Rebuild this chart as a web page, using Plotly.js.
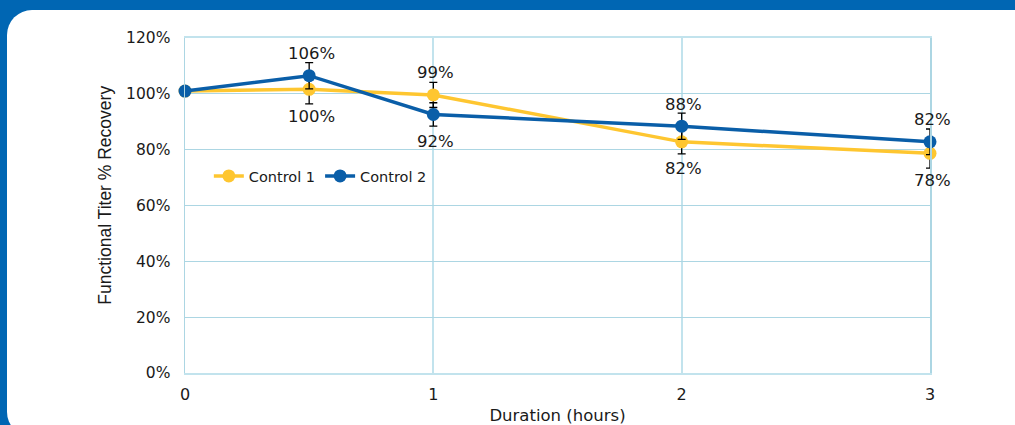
<!DOCTYPE html>
<html>
<head>
<meta charset="utf-8">
<script src="https://cdn.plot.ly/plotly-3.0.1.min.js"></script>
<style>
  html, body { margin: 0; padding: 0; width: 1015px; height: 425px; overflow: hidden; background: #0066b3; }
  #panel { position: absolute; left: 7px; top: 10px; width: 1100px; height: 427px; background: #ffffff; border-radius: 25px; }
  #chart { position: absolute; left: 0; top: 0; width: 1015px; height: 425px; }
</style>
</head>
<body>
<div id="panel"></div>
<div id="chart"></div>
<script>
// ---- data ----
const durations = [0, 0.5, 1, 2, 3];
const control1 = [101.0, 101.6, 99.6, 82.8, 78.7];
const control2 = [101.0, 106.5, 92.6, 88.4, 82.8];
const control1Err = [0, 5.2, 4.5, 4.3, 5.3];
const control2Err = [0, 4.7, 4.2, 4.7, 4.6];
const control1Labels = ['', '100%', '99%', '82%', '78%'];
const control2Labels = ['', '106%', '92%', '88%', '82%'];
const xTicks = [0, 1, 2, 3];
const seriesNames = ['Control 1', 'Control 2'];
const xTitle = 'Duration (hours)';
const yTitle = 'Functional Titer % Recovery';

const YELLOW = '#fec630';
const BLUE = '#0a5ea8';
const GRID_X = '#c2e3ed';
const GRID_Y = '#acd6e3';
const TXT = '#1a1a1a';
const FONT = 'DejaVu Sans, Verdana, sans-serif';

function trace(name, y, err, color) {
  return {
    type: 'scatter', mode: 'lines+markers', name: name,
    x: durations, y: y,
    line: { color: color, width: 3.5 },
    marker: { color: color, size: 13 },
    error_y: { type: 'data', array: err, visible: true, color: '#000000', thickness: 1.3, width: 4 },
    cliponaxis: false
  };
}

const data = [
  trace(seriesNames[0], control1, control1Err, YELLOW),
  trace(seriesNames[1], control2, control2Err, BLUE)
];

const annotations = [];
function addLabels(vals, other, labels) {
  vals.forEach((v, i) => {
    if (!labels[i]) return;
    const above = v >= other[i];
    annotations.push({
      x: durations[i], y: v, xref: 'x', yref: 'y', text: labels[i],
      showarrow: false, xanchor: 'center', yanchor: 'middle',
      xshift: 2, yshift: above ? 22 : -27,
      font: { family: FONT, size: 16.5, color: TXT }
    });
  });
}
addLabels(control1, control2, control1Labels);
addLabels(control2, control1, control2Labels);

// y-axis title (placed slightly above centre, as in the reference)
annotations.push({
  text: yTitle, xref: 'paper', yref: 'paper', x: -0.1075, y: 0.532,
  xanchor: 'center', yanchor: 'middle', textangle: -90, showarrow: false,
  font: { family: 'Liberation Sans, Arial, sans-serif', size: 17.5, color: TXT }
});

const layout = {
  width: 1015, height: 425,
  margin: { l: 185, r: 85, t: 38, b: 52 },
  paper_bgcolor: 'rgba(0,0,0,0)',
  plot_bgcolor: 'rgba(0,0,0,0)',
  font: { family: FONT, size: 15, color: TXT },
  showlegend: true,
  legend: {
    orientation: 'h', x: 0.032, y: 0.588, xanchor: 'left', yanchor: 'middle',
    bgcolor: 'rgba(0,0,0,0)', font: { family: FONT, size: 14.5, color: TXT },
    itemwidth: 30, tracegroupgap: 0
  },
  xaxis: {
    range: [0, 3], tickvals: xTicks, ticktext: xTicks.map(String),
    showgrid: true, gridcolor: GRID_X, gridwidth: 2,
    showline: true, linecolor: GRID_X, linewidth: 2, mirror: true,
    zeroline: false, ticks: '', ticklabelstandoff: 6,
    tickfont: { family: FONT, size: 16, color: TXT },
    title: { text: xTitle, font: { family: FONT, size: 16.5, color: TXT }, standoff: 6 }
  },
  yaxis: {
    range: [0, 120], dtick: 20, ticksuffix: '%',
    showgrid: true, gridcolor: GRID_Y, gridwidth: 1,
    showline: true, linecolor: GRID_Y, linewidth: 1.5, mirror: true,
    zeroline: false, ticks: '', ticklabelstandoff: 10,
    tickfont: { family: FONT, size: 15.5, color: TXT }
  },
  annotations: annotations
};

Plotly.newPlot('chart', data, layout, { displayModeBar: false, staticPlot: true });
</script>
</body>
</html>
